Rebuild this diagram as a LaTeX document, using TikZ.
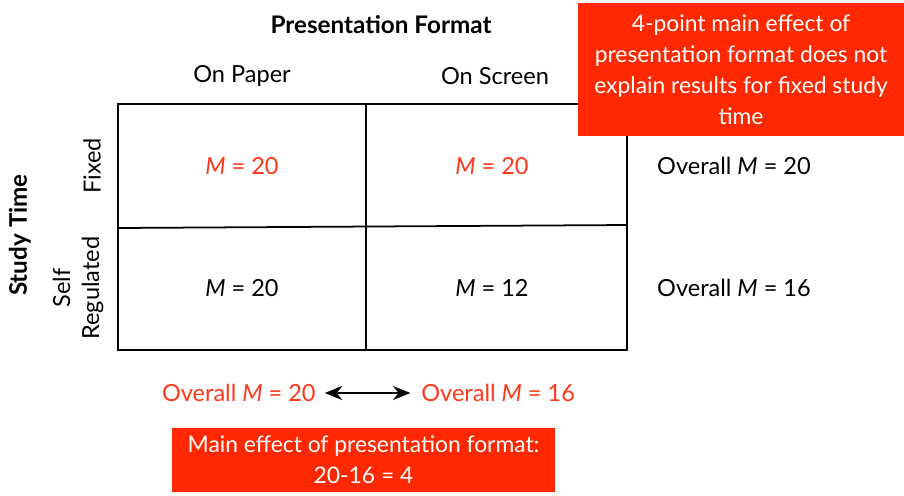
\documentclass[tikz,border=0pt]{standalone}
\usepackage{fontspec}
\setmainfont{Lato}
\usetikzlibrary{arrows.meta}
\definecolor{effectred}{RGB}{255,40,0}
\definecolor{textred}{RGB}{255,55,25}

\begin{document}
\begin{tikzpicture}[
    x=0.02cm, y=-0.02cm,
    base/.style = {font=\fontsize{13.4}{17.6}\selectfont, inner sep=0pt},
    head/.style = {base, font=\fontsize{13.8}{17.6}\selectfont\bfseries},
    cell/.style = {base},
    hot/.style = {base, text=textred},
    note/.style = {base, font=\fontsize{13}{17.6}\selectfont, fill=effectred, text=white, align=center},
    grid/.style = {draw=black, line width=1pt}
]
  \useasboundingbox (0,0) rectangle (904,495);

  % table
  \draw[grid] (118,104) rectangle (627,350);
  \draw[grid] (366,104) -- (366,350);
  \draw[grid] (118,228) -- (627,225);

  \node (format) [head] at (381,25) {Presentation Format};
  \node (paper)  [base] at (242,76) {On Paper};
  \node (screen) [base] at (495,76) {On Screen};

  \node (study) [head, rotate=90] at (20,235) {Study Time};
  \node (fixed) [base, rotate=90] at (92,166) {Fixed};
  \node (self)  [base, rotate=90, align=center,
    font=\fontsize{13.4}{16.5}\selectfont] at (78,288) {Self\\Regulated};

  \node (pf) [hot]  at (242,166) {\textit{M} = 20};
  \node (sf) [hot]  at (492,166) {\textit{M} = 20};
  \node (ps) [cell] at (242,288) {\textit{M} = 20};
  \node (ss) [cell] at (492,288) {\textit{M} = 12};

  \node (rowf) [cell] at (734,166) {Overall \textit{M} = 20};
  \node (rows) [cell] at (734,288) {Overall \textit{M} = 16};

  \node (colp) [hot, anchor=east] at (316,393) {Overall \textit{M} = 20};
  \node (cols) [hot, anchor=west] at (421,393) {Overall \textit{M} = 16};

  \draw[{Stealth[length=10pt,width=8pt]}-{Stealth[length=10pt,width=8pt]}, line width=1.1pt]
    ([xshift=5pt]colp.east) -- ([xshift=-6pt]cols.west);

  % red callouts
  \node (fixnote) [note, minimum width=326*0.02cm, minimum height=133*0.02cm]
    at (741,69.5)
    {4-point main effect of\\presentation format does not\\explain results for fixed study\\time};
  \node (mainnote) [note, minimum width=383*0.02cm, minimum height=64*0.02cm]
    at (363.5,460) {Main effect of presentation format:\\20-16 = 4};
\end{tikzpicture}
\end{document}
